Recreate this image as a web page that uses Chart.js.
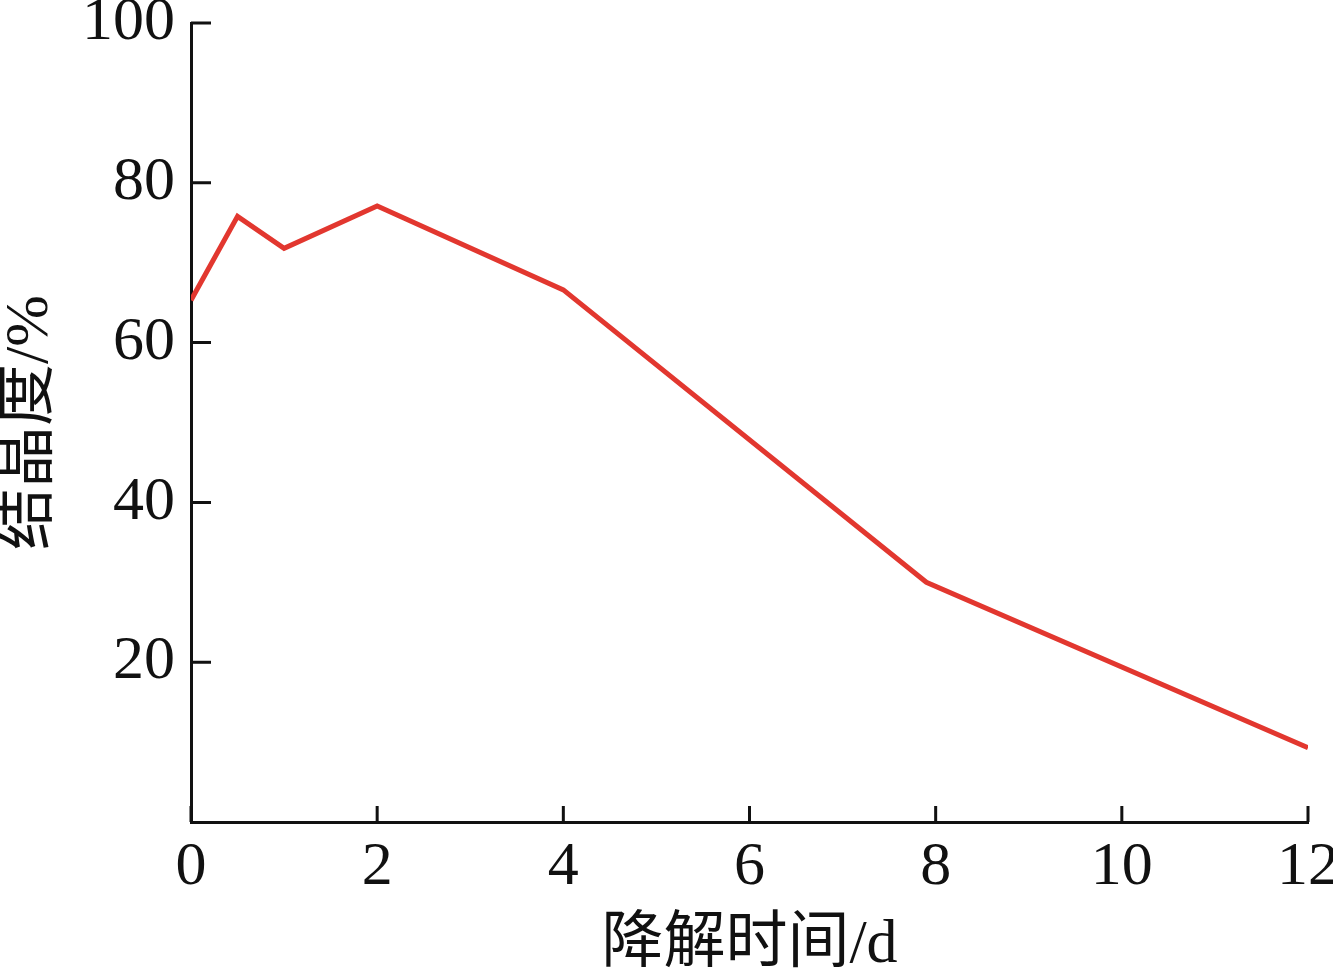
<!DOCTYPE html>
<html>
<head>
<meta charset="utf-8">
<script src="https://cdn.jsdelivr.net/npm/chart.js@4.4.1/dist/chart.umd.min.js"></script>
<style>
  html, body { margin: 0; padding: 0; background: #fff; }
  #wrap { width: 1333px; height: 977px; }
</style>
</head>
<body>
<div id="wrap"><canvas id="chart"></canvas></div>
<script>
// 降解时间 (d) 与 结晶度 (%)
const days = [0, 0.5, 1, 2, 4, 7.9, 12];
const crystallinity = [65.3, 75.8, 71.8, 77.1, 66.6, 30.0, 9.3];
const xTicks = [0, 2, 4, 6, 8, 10, 12];
const yTicks = [20, 40, 60, 80, 100];

const serif = "'Liberation Serif', 'Times New Roman', 'Noto Sans CJK SC', serif";

// tick marks pointing into the plot area
const innerTicks = {
  id: "innerTicks",
  afterDraw(chart) {
    const { ctx, scales: { x, y }, chartArea } = chart;
    ctx.save();
    ctx.strokeStyle = "#111";
    ctx.lineWidth = 3;
    ctx.beginPath();
    xTicks.forEach(v => {
      const px = x.getPixelForValue(v);
      ctx.moveTo(px, chartArea.bottom);
      ctx.lineTo(px, chartArea.bottom - 16);
    });
    yTicks.forEach(v => {
      const py = y.getPixelForValue(v);
      ctx.moveTo(chartArea.left, py);
      ctx.lineTo(chartArea.left + 20, py);
    });
    ctx.stroke();
    ctx.restore();
  }
};

const ctx = document.getElementById("chart").getContext("2d");

new Chart(ctx, {
  type: "line",
  data: {
    datasets: [
      {
        data: days.map((d, i) => ({ x: d, y: crystallinity[i] })),
        borderColor: "#e2372f",
        borderWidth: 5,
        pointRadius: 0,
        tension: 0,
        fill: false
      }
    ]
  },
  options: {
    responsive: true,
    maintainAspectRatio: false,
    devicePixelRatio: 1,
    animation: false,
    layout: { padding: { top: 23, right: 25, bottom: 0, left: 0 } },
    plugins: {
      legend: { display: false },
      tooltip: { enabled: false }
    },
    scales: {
      x: {
        type: "linear",
        min: 0,
        max: 12,
        afterBuildTicks: s => { s.ticks = xTicks.map(v => ({ value: v })); },
        afterFit: s => { s.height = 155; s.paddingLeft = 0; s.paddingRight = 0; },
        grid: { display: false, drawTicks: false },
        border: { color: "#111", width: 3 },
        ticks: {
          color: "#111",
          padding: 9,
          maxRotation: 0,
          font: { family: serif, size: 62 }
        },
        title: {
          display: true,
          text: "降解时间/d",
          color: "#111",
          padding: { top: 0, bottom: 0 },
          font: { family: serif, size: 62, lineHeight: 1 }
        }
      },
      y: {
        min: 0,
        max: 100,
        afterBuildTicks: s => { s.ticks = yTicks.map(v => ({ value: v })); },
        afterFit: s => { s.width = 191; s.paddingTop = 0; s.paddingBottom = 0; },
        grid: { display: false, drawTicks: false },
        border: { color: "#111", width: 3 },
        ticks: {
          color: "#111",
          padding: 16,
          font: { family: serif, size: 62 }
        },
        title: {
          display: true,
          text: "结晶度/%",
          color: "#111",
          padding: { top: 0, bottom: 0 },
          font: { family: serif, size: 62, lineHeight: 1 }
        }
      }
    }
  },
  plugins: [innerTicks]
});
</script>
</body>
</html>
